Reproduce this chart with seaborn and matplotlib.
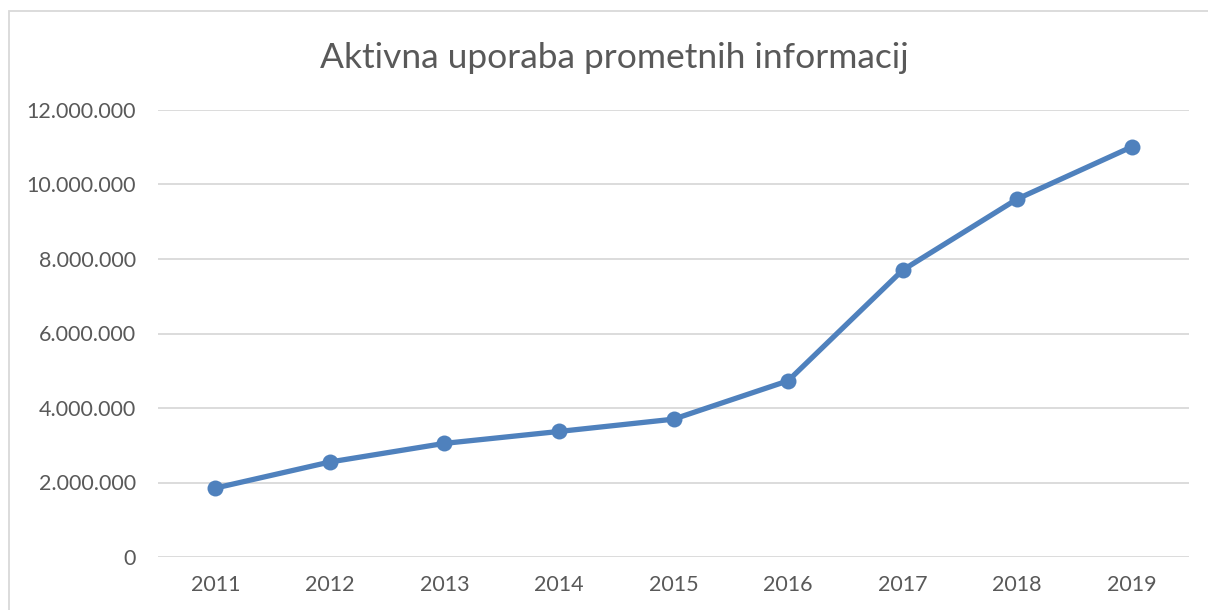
import matplotlib
matplotlib.use("Agg")
import matplotlib.pyplot as plt
import seaborn as sns
import pandas as pd
from matplotlib.patches import Rectangle
from matplotlib.ticker import FuncFormatter

years = ["2011", "2012", "2013", "2014", "2015", "2016", "2017", "2018", "2019"]
values = [1850000, 2550000, 3050000, 3370000, 3700000, 4730000, 7700000, 9610000, 11010000]
title = "Aktivna uporaba prometnih informacij"

sns.set_theme(style="white")
plt.rcParams['font.family'] = ['Lato', 'DejaVu Sans']

df = pd.DataFrame({"year": years, "value": values})

fig = plt.figure(figsize=(12.08, 6.10), dpi=100)
ax = fig.add_axes([158/1208, 1 - 557/610, (1189 - 158)/1208, (557 - 110)/610])

blue = "#4F81BD"
sns.lineplot(data=df, x="year", y="value", ax=ax, color=blue, linewidth=3.8,
             marker="o", markersize=11.5, markeredgewidth=0, sort=False)

ax.set_xlim(-0.5, len(years) - 0.5)
ax.set_ylim(0, 12000000)
ax.set_yticks(range(0, 12000001, 2000000))
ax.yaxis.set_major_formatter(FuncFormatter(lambda v, p: f"{int(v):,}".replace(",", ".")))
ax.grid(axis="y", color="#D9D9D9", linewidth=1.3)
ax.grid(axis="x", visible=False)
ax.set_axisbelow(True)
for s in ax.spines.values():
    s.set_visible(False)
ax.set_xlabel("")
ax.set_ylabel("")
ax.tick_params(axis="y", length=0, pad=16, labelsize=15.5, labelcolor="#595959")
ax.tick_params(axis="x", length=0, pad=13, labelsize=15.5, labelcolor="#595959")

fig.text(614/1208, 1 - 58/610, title, ha="center", va="center", fontsize=25.5, color="#595959")

fig.patches.append(Rectangle((9/1208, -0.1), 1.2, 0.1 + 1 - 11/610, transform=fig.transFigure,
                             fill=False, edgecolor="#D9D9D9", linewidth=1.3))

fig.savefig("out.png", dpi=100)
